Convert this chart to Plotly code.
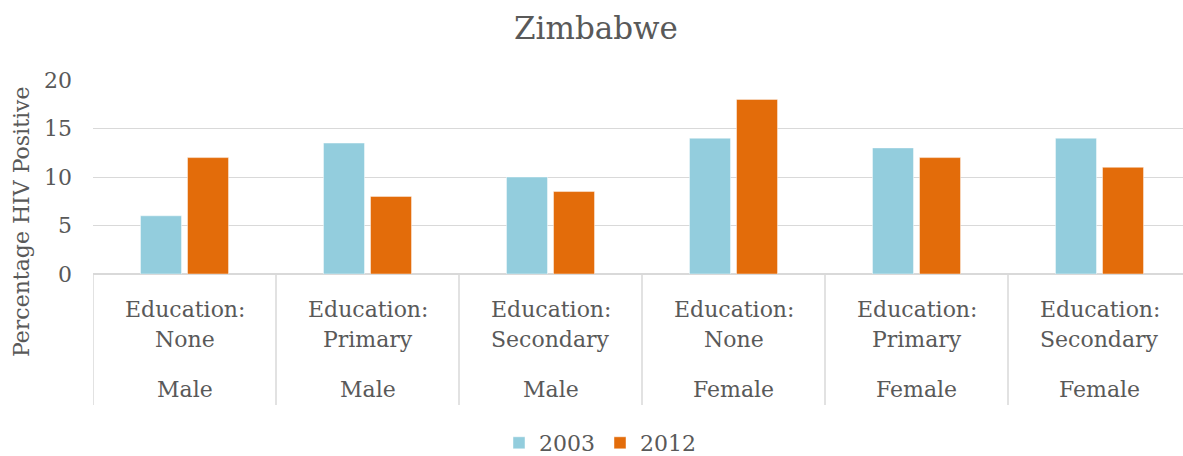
import plotly.graph_objects as go

education = ["Education:<br>None", "Education:<br>Primary", "Education:<br>Secondary",
             "Education:<br>None", "Education:<br>Primary", "Education:<br>Secondary"]
sex = ["Male", "Male", "Male", "Female", "Female", "Female"]
categories = [f"{s} | {e}" for s, e in zip(sex, education)]
values_2003 = [6, 13.5, 10, 14, 13, 14]
values_2012 = [12, 8, 8.5, 18, 12, 11]
y_ticks = [0, 5, 10, 15, 20]

FONT = "DejaVu Serif"
TXT = "#595959"
GRID = "#D9D9D9"

W, H = 1183, 456
L, R, T, B = 93, 0, 80, 182
plot_h = H - T - B
plot_w = W - L - R
cat_px = 183.0

def py_to_paper(py):
    return (H - B - py) / plot_h

def px_to_paper(px):
    return (px - L) / plot_w

fig = go.Figure()
fig.add_trace(go.Bar(name="2003", x=categories, y=values_2003,
                     marker=dict(color="#93CDDD", line=dict(color="rgba(255,255,255,0.45)", width=1))))
fig.add_trace(go.Bar(name="2012", x=categories, y=values_2012,
                     marker=dict(color="#E36C0A", line=dict(color="rgba(255,255,255,0.45)", width=1))))

x_end = -0.5 + plot_w / cat_px

fig.update_layout(
    width=W, height=H,
    margin=dict(l=L, r=R, t=T, b=B, pad=0, autoexpand=False),
    paper_bgcolor="white", plot_bgcolor="white",
    font=dict(family=FONT, size=22, color=TXT),
    barmode="group", bargap=0.486, bargroupgap=0.128,
    title=dict(text="Zimbabwe", x=596 / W, xanchor="center",
               y=1 - 28 / H, yanchor="middle", font=dict(family=FONT, size=31, color=TXT)),
    xaxis=dict(type="category", range=[-0.5, x_end], showticklabels=False, ticks="",
               showgrid=False, zeroline=False, showline=False),
    yaxis=dict(range=[0, 20], tickvals=y_ticks, ticks="", showgrid=True, gridcolor=GRID, gridwidth=1.3,
               zeroline=True, zerolinecolor=GRID, zerolinewidth=1.5, showline=False,
               tickfont=dict(family=FONT, size=22, color=TXT), ticklabelstandoff=20),
    showlegend=True,
    legend=dict(orientation="h", x=px_to_paper(600), xanchor="center",
                y=py_to_paper(443), yanchor="middle",
                font=dict(family=FONT, size=22, color=TXT), itemwidth=30,
                traceorder="normal"),
)

# category labels
for c, e, s in zip(categories, education, sex):
    top, bottom = e.split("<br>")
    for text, ypx in ((top, 309), (bottom, 339), (s, 389)):
        fig.add_annotation(x=c, xref="x", y=py_to_paper(ypx), yref="paper", text=text,
                           showarrow=False, xanchor="center", yanchor="middle",
                           font=dict(family=FONT, size=22, color=TXT))

# dividers in category axis
for i in range(len(categories) + 1):
    fig.add_shape(type="line", xref="x", yref="paper", x0=i - 0.5, x1=i - 0.5,
                  y0=0, y1=py_to_paper(405), line=dict(color=GRID, width=1.5), layer="below")

# y axis title
fig.add_annotation(x=px_to_paper(21), xref="paper", y=py_to_paper(222), yref="paper",
                   text="Percentage HIV Positive", textangle=-90, showarrow=False,
                   xanchor="center", yanchor="middle", font=dict(family=FONT, size=22, color=TXT))

fig.write_html("out.html")
